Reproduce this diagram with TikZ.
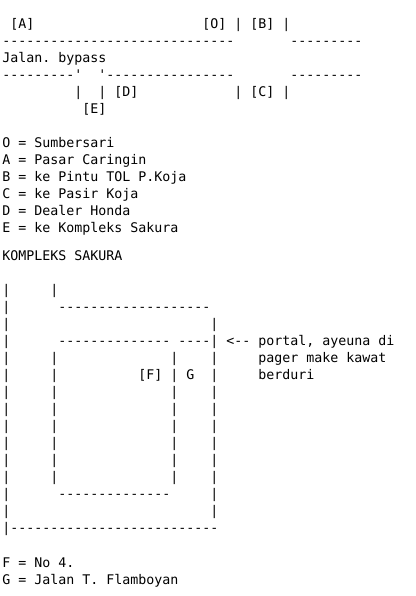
\documentclass[tikz,border=0pt]{standalone}
\usepackage{fontspec}
\newfontfamily\asc{DejaVu Sans Mono}
\tikzset{
  asciirow/.style={anchor=base west,inner sep=0pt,outer sep=0pt,font=\asc\fontsize{13.29}{17}\selectfont,text=black}
}
\begin{document}
\begin{tikzpicture}[x=1pt,y=1pt]
\useasboundingbox[fill=white] (0,0) rectangle (415,596);
\begin{scope}[shift={(0.3,-0.7)}]
% road block
\node[asciirow] (r0) at (2,568) {~[A]~~~~~~~~~~~~~~~~~~~~~[O]~|~[B]~|};
\node[asciirow] (r1) at (2,551) {-----------------------------~~~~~~~---------};
\node[asciirow] (r2) at (2,534) {Jalan.~bypass};
\node[asciirow] (r3) at (2,517) {---------'~~'----------------~~~~~~~---------};
\node[asciirow] (r4) at (2,500) {~~~~~~~~~|~~|~[D]~~~~~~~~~~~~|~[C]~|};
\node[asciirow] (r5) at (2,483) {~~~~~~~~~~[E]};
% legend
\node[asciirow] (l0) at (2,449) {O~=~Sumbersari};
\node[asciirow] (l1) at (2,432) {A~=~Pasar~Caringin};
\node[asciirow] (l2) at (2,415) {B~=~ke~Pintu~TOL~P.Koja};
\node[asciirow] (l3) at (2,398) {C~=~ke~Pasir~Koja};
\node[asciirow] (l4) at (2,381) {D~=~Dealer~Honda};
\node[asciirow] (l5) at (2,364) {E~=~ke~Kompleks~Sakura};
\node[asciirow] (title) at (2,336) {KOMPLEKS~SAKURA};
% complex block
\node[asciirow] (k0) at (2,302) {|~~~~~|};
\node[asciirow] (k1) at (2,285) {|~~~~~~-------------------};
\node[asciirow] (k2) at (2,268) {|~~~~~~~~~~~~~~~~~~~~~~~~~|};
\node[asciirow] (k3) at (2,251) {|~~~~~~--------------~----|~<--~portal,~ayeuna~di};
\node[asciirow] (k4) at (2,234) {|~~~~~|~~~~~~~~~~~~~~|~~~~|~~~~~pager~make~kawat};
\node[asciirow] (k5) at (2,217) {|~~~~~|~~~~~~~~~~[F]~|~G~~|~~~~~berduri};
\node[asciirow] (k6) at (2,200) {|~~~~~|~~~~~~~~~~~~~~|~~~~|};
\node[asciirow] (k7) at (2,183) {|~~~~~|~~~~~~~~~~~~~~|~~~~|};
\node[asciirow] (k8) at (2,166) {|~~~~~|~~~~~~~~~~~~~~|~~~~|};
\node[asciirow] (k9) at (2,149) {|~~~~~|~~~~~~~~~~~~~~|~~~~|};
\node[asciirow] (k10) at (2,132) {|~~~~~|~~~~~~~~~~~~~~|~~~~|};
\node[asciirow] (k11) at (2,115) {|~~~~~|~~~~~~~~~~~~~~|~~~~|};
\node[asciirow] (k12) at (2,98) {|~~~~~~--------------~~~~~|};
\node[asciirow] (k13) at (2,81) {|~~~~~~~~~~~~~~~~~~~~~~~~~|};
\node[asciirow] (k14) at (2,64) {|--------------------------};
\node[asciirow] (f) at (2,29) {F~=~No~4.};
\node[asciirow] (g) at (2,12) {G~=~Jalan~T.~Flamboyan};
\end{scope}
\end{tikzpicture}
\end{document}
